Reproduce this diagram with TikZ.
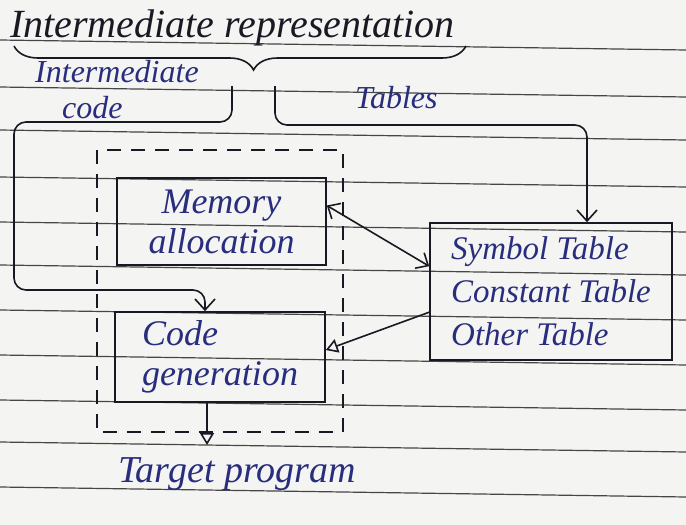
\documentclass[tikz,border=0pt]{standalone}
\usepackage{fontspec}
\setmainfont{Liberation Serif}
\usetikzlibrary{arrows.meta,decorations.pathreplacing,calc}
\definecolor{paper}{RGB}{244,244,242}
\definecolor{rulecol}{RGB}{70,70,70}
\definecolor{ink}{RGB}{25,25,35}
\definecolor{blueink}{RGB}{40,45,125}
\begin{document}
\begin{tikzpicture}[x=1pt,y=-1pt,
  inkline/.style={draw=ink, line width=1.6pt},
  lbl/.style={font=\fontsize{32}{36}\selectfont\itshape, text=blueink, inner sep=0pt},
  boxtext/.style={font=\fontsize{36}{40}\selectfont\itshape, text=blueink},
  stepbox/.style={inkline, boxtext, inner sep=0pt},
  barb/.style={-{Straight Barb[length=11pt,width=20pt]}},
  tri/.style={-{Triangle[open,length=12pt,width=14pt]}}
]
\useasboundingbox (0,0) rectangle (686,525);
\fill[paper] (0,0) rectangle (686,525);
% ruled lines
\foreach \y in {40,87,130,177,222,265,310,355,400,442,487}
  \draw[rulecol, line width=1.2pt] (0,\y) -- (686,\y+10);

% title
\node[inner sep=0pt, anchor=base west, text=ink, font=\fontsize{40}{44}\selectfont\itshape] (title) at (10,37) {Intermediate representation};
% brace
\coordinate (bl) at (14,46);
\coordinate (br) at (466,46);
\draw[inkline, decorate, decoration={brace, amplitude=24pt, mirror, aspect=0.53}] (bl) -- (br);

% labels
\node[lbl, anchor=base west] (icode1) at (35,82) {Intermediate};
\node[lbl, anchor=base west] (icode2) at (62,118) {code};
\node[lbl, anchor=base west] (tables) at (355,108) {Tables};

% boxes
\node[stepbox, minimum width=209pt, minimum height=87pt, align=center] (mem) at (221.5,221.5) {Memory\\allocation};
\node[stepbox, minimum width=210pt, minimum height=90pt, align=left] (cg) at (220,357) {Code\\generation};
\node[stepbox, minimum width=242pt, minimum height=137pt, align=left, font=\fontsize{33}{43}\selectfont\itshape] (tab) at (551,291.5) {Symbol Table\\Constant Table\\Other Table};

% dashed enclosure
\draw[inkline, dash pattern=on 14pt off 10pt] (97,150) rectangle (343,432);

% intermediate code bracket
\coordinate (ictop) at (232,86);
\coordinate (lcorner) at (205,290);
\draw[inkline, rounded corners=12pt, barb] (ictop) -- (232,122) -- (14,122) -- (14,290) -- (lcorner) -- (lcorner |- cg.north);

% tables bracket
\coordinate (tbtop) at (275,86);
\coordinate (rcorner) at (587,125);
\draw[inkline, rounded corners=12pt, barb] (tbtop) -- (275,125) -- (rcorner) -- (rcorner |- tab.north);

% table <-> memory
\draw[inkline, {Straight Barb[length=10pt,width=18pt]}-{Straight Barb[length=10pt,width=18pt]}] ([yshift=-44pt]tab.north west) -- ([yshift=16pt]mem.east);
% table -> code generation
\draw[inkline, tri] ([yshift=-90pt]tab.north west) -- ([yshift=7pt]cg.east);

% output
\coordinate (tp) at (207,445);
\draw[inkline, tri] ([xshift=-13pt]cg.south) -- (tp);
\node[inner sep=0pt, anchor=base west, text=blueink, font=\fontsize{38}{42}\selectfont\itshape] (target) at (118,482) {Target program};
\end{tikzpicture}
\end{document}
